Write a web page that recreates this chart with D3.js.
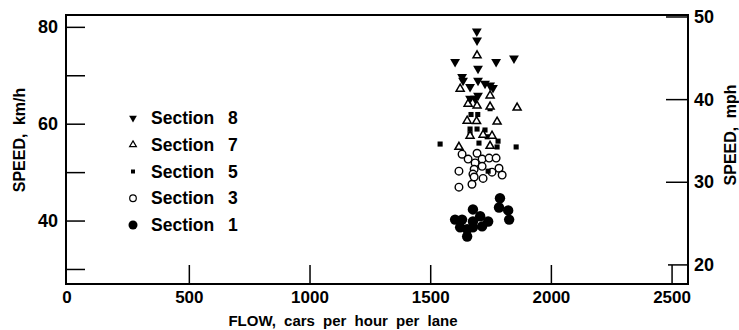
<!DOCTYPE html>
<html>
<head>
<meta charset="utf-8">
<script src="https://cdn.jsdelivr.net/npm/d3@7"></script>
<style>
  body { margin: 0; background: #fff; }
  text { font-family: "Liberation Sans", Arial, Helvetica, sans-serif; font-weight: bold; fill: #000; }
</style>
</head>
<body>
<svg id="chart" width="739" height="330"></svg>
<script>
// values: [flow, speed km/h]
let section8 = [[1691,79.2],[1692,77.3],[1601,72.9],[1696,71.5],[1771,72.9],[1845,73.6],
    [1630,69.8],[1634,69.0],[1663,67.7],[1696,69.0],[1725,68.4],[1746,68.0],[1758,67.5],
    [1696,65.9],[1684,65.3],[1663,65.3]];
let section7 = [[1692,74.2],[1622,67.3],[1746,65.9],[1655,64.2],[1692,63.8],[1746,63.6],
    [1858,63.4],[1651,60.7],[1690,60.6],[1775,60.5],[1663,57.6],[1717,57.8],[1754,57.6],
    [1617,55.3],[1746,55.5]];
let section5 = [[1667,62.0],[1695,62.0],[1746,63.2],[1663,59.0],[1692,59.0],[1725,58.8],
    [1663,58.0],[1734,57.4],[1779,56.5],[1700,56.1],[1775,55.3],[1539,55.9],[1854,55.3],
    [1738,50.3]];
let section3 = [[1630,53.8],[1692,54.0],[1655,52.8],[1684,52.0],[1713,52.8],[1742,53.0],
    [1771,53.0],[1680,50.7],[1713,51.3],[1617,50.3],[1675,49.7],[1754,50.1],[1783,50.9],
    [1796,49.5],[1680,49.1],[1717,48.8],[1671,47.6],[1617,47.0]];
let section1 = [[1787,44.7],[1783,42.8],[1821,42.2],[1675,42.4],[1705,41.0],[1601,40.3],
    [1630,40.3],[1738,39.9],[1825,40.3],[1675,39.9],[1713,38.9],[1675,38.7],[1651,38.3],
    [1622,38.7],[1651,36.8]];

let legendNames = ["Section 8", "Section 7", "Section 5", "Section 3", "Section 1"];
let flowTicks = [500, 1000, 1500, 2000, 2500];
let flowLabels = [0, 500, 1000, 1500, 2000, 2500];
let kmhTicks = [30, 40, 50, 60, 70, 80];
let kmhLabels = [40, 60, 80];
let mphTicks = [20, 30, 40, 50];

let svg = d3.select("#chart");
let plotLeft = 66, plotRight = 688, plotTop = 15, plotBottom = 284;

let x = d3.scaleLinear().domain([-11, 2566]).range([plotLeft, plotRight]);
let y = d3.scaleLinear().domain([27.0, 82.55]).range([plotBottom, plotTop]);
let yMph = d3.scaleLinear().domain([17.69, 50.24]).range([plotBottom, plotTop]);

// frame
svg.append("path")
    .attr("d", "M" + plotLeft + "," + plotTop + "H" + plotRight + "V" + plotBottom + "H" + plotLeft + "Z")
    .attr("fill", "none").attr("stroke", "#000").attr("stroke-width", 2);

// inward ticks
let tickLen = 19;
svg.append("g").selectAll("line").data(kmhTicks).enter().append("line")
    .attr("x1", plotLeft).attr("x2", plotLeft + tickLen)
    .attr("y1", d => y(d)).attr("y2", d => y(d))
    .attr("stroke", "#000").attr("stroke-width", 1.5);
svg.append("g").selectAll("line").data(mphTicks).enter().append("line")
    .attr("x1", plotRight).attr("x2", d => d === 20 ? plotRight - 20 : plotRight - 22)
    .attr("y1", d => yMph(d)).attr("y2", d => yMph(d))
    .attr("stroke", "#000").attr("stroke-width", 1.5);
svg.append("g").selectAll("line").data(flowTicks).enter().append("line")
    .attr("x1", d => x(d)).attr("x2", d => x(d))
    .attr("y1", plotBottom).attr("y2", d => d === 2500 ? yMph(20) : plotBottom - tickLen)
    .attr("stroke", "#000").attr("stroke-width", 1.5);

// tick labels
svg.append("g").selectAll("text").data(kmhLabels).enter().append("text")
    .attr("x", 58).attr("y", d => y(d) + 6)
    .attr("text-anchor", "end").style("font-size", "18px")
    .text(d => d);
svg.append("g").selectAll("text").data(mphTicks).enter().append("text")
    .attr("x", 694).attr("y", d => yMph(d) + 6)
    .style("font-size", "18px")
    .text(d => d);
svg.append("g").selectAll("text").data(flowLabels).enter().append("text")
    .attr("x", d => d === 0 ? plotLeft + 1 : x(d)).attr("y", 303)
    .attr("text-anchor", "middle").style("font-size", "17px")
    .text(d => d);

// axis titles
svg.append("text")
    .attr("transform", "translate(25,140) rotate(-90)")
    .attr("text-anchor", "middle").style("font-size", "16px").style("word-spacing", "4px")
    .text("SPEED, km/h");
svg.append("text")
    .attr("transform", "translate(736,135) rotate(-90)")
    .attr("text-anchor", "middle").style("font-size", "16px").style("word-spacing", "4px")
    .text("SPEED, mph");
svg.append("text")
    .attr("x", 343).attr("y", 326)
    .attr("text-anchor", "middle").style("font-size", "15px").style("word-spacing", "4px")
    .text("FLOW, cars per hour per lane");

// markers
let downTri = d3.symbol().type(d3.symbolTriangle);
let upTri = d3.symbol().type(d3.symbolTriangle);
let square = d3.symbol().type(d3.symbolSquare);

function drawSeries(data, kind) {
    let g = svg.append("g");
    let sel = g.selectAll("path").data(data).enter();
    if (kind === "s8") {
        sel.append("path").attr("d", downTri.size(42)())
            .attr("transform", d => "translate(" + x(d[0]) + "," + y(d[1]) + ") rotate(180)")
            .attr("fill", "#000");
    } else if (kind === "s7") {
        sel.append("path").attr("d", upTri.size(28)())
            .attr("transform", d => "translate(" + x(d[0]) + "," + y(d[1]) + ")")
            .attr("fill", "#fff").attr("stroke", "#000").attr("stroke-width", 1.5);
    } else if (kind === "s5") {
        sel.append("path").attr("d", square.size(26)())
            .attr("transform", d => "translate(" + x(d[0]) + "," + y(d[1]) + ")")
            .attr("fill", "#000");
    } else if (kind === "s3") {
        sel.append("circle").attr("cx", d => x(d[0])).attr("cy", d => y(d[1])).attr("r", 3.8)
            .attr("fill", "#fff").attr("stroke", "#000").attr("stroke-width", 1.4);
    } else {
        sel.append("circle").attr("cx", d => x(d[0])).attr("cy", d => y(d[1])).attr("r", 5.2)
            .attr("fill", "#000");
    }
}
drawSeries(section3, "s3");
drawSeries(section5, "s5");
drawSeries(section7, "s7");
drawSeries(section8, "s8");
drawSeries(section1, "s1");

// legend
let kinds = ["s8", "s7", "s5", "s3", "s1"];
let legend = svg.append("g");
let rowY = d3.scalePoint().domain(legendNames).range([118, 225]);
legendNames.forEach(function (name, i) {
    let cy = rowY(name);
    let k = kinds[i];
    if (k === "s8") {
        legend.append("path").attr("d", downTri.size(26)())
            .attr("transform", "translate(133," + cy + ") rotate(180)").attr("fill", "#000");
    } else if (k === "s7") {
        legend.append("path").attr("d", upTri.size(20)())
            .attr("transform", "translate(133," + cy + ")")
            .attr("fill", "#fff").attr("stroke", "#000").attr("stroke-width", 1.2);
    } else if (k === "s5") {
        legend.append("path").attr("d", square.size(16)())
            .attr("transform", "translate(133," + cy + ")").attr("fill", "#000");
    } else if (k === "s3") {
        legend.append("circle").attr("cx", 133).attr("cy", cy).attr("r", 3.3)
            .attr("fill", "#fff").attr("stroke", "#000").attr("stroke-width", 1.2);
    } else {
        legend.append("circle").attr("cx", 133).attr("cy", cy).attr("r", 4.5).attr("fill", "#000");
    }
    legend.append("text").attr("x", 151).attr("y", cy + 6)
        .style("font-size", "17.5px").style("word-spacing", "9px")
        .text(name);
});
</script>
</body>
</html>
